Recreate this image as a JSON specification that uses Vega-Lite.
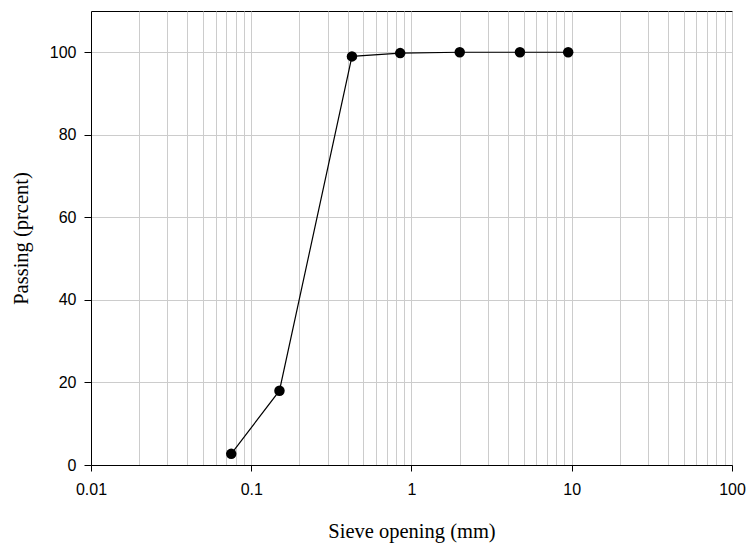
{
  "$schema": "https://vega.github.io/schema/vega-lite/v6.json",
  "width": 641,
  "height": 454,
  "autosize": {"type": "none"},
  "padding": {"left": 91, "top": 11, "right": 15, "bottom": 78},
  "background": "white",
  "config": {
    "view": {"stroke": "black", "strokeWidth": 1},
    "axis": {
      "labelFont": "Liberation Sans",
      "labelFontSize": 16,
      "labelColor": "black",
      "titleFont": "Liberation Serif",
      "titleFontSize": 20.5,
      "titleFontWeight": "normal",
      "titleColor": "black",
      "domainColor": "black",
      "tickColor": "black",
      "gridColor": "#cccccc",
      "gridWidth": 1,
      "gridOpacity": 1
    }
  },
  "data": {
    "values": [
      {"sieve": 0.075, "passing": 2.7},
      {"sieve": 0.15, "passing": 18},
      {"sieve": 0.425, "passing": 99},
      {"sieve": 0.85, "passing": 99.8},
      {"sieve": 2.0, "passing": 100},
      {"sieve": 4.75, "passing": 100},
      {"sieve": 9.5, "passing": 100}
    ]
  },
  "encoding": {
    "x": {
      "field": "sieve",
      "type": "quantitative",
      "scale": {"type": "log", "domain": [0.01, 100], "nice": false},
      "axis": {
        "title": "Sieve opening (mm)",
        "values": [0.01, 0.02, 0.03, 0.04, 0.05, 0.06, 0.07, 0.08, 0.09, 0.1, 0.2, 0.3, 0.4, 0.5, 0.6, 0.7, 0.8, 0.9, 1, 2, 3, 4, 5, 6, 7, 8, 9, 10, 20, 30, 40, 50, 60, 70, 80, 90, 100],
        "labelExpr": "indexof([0.01,0.1,1,10,100], datum.value) >= 0 ? datum.label : ''",
        "tickOpacity": {"condition": {"test": "indexof([0.01,0.1,1,10,100], datum.value) >= 0", "value": 1}, "value": 0},
        "labelOverlap": false,
        "labelBound": false,
        "labelFlush": false,
        "tickSize": 6,
        "labelPadding": 10,
        "titlePadding": 24,
        "grid": true
      }
    },
    "y": {
      "field": "passing",
      "type": "quantitative",
      "scale": {"domain": [0, 110], "nice": false},
      "axis": {
        "title": "Passing (prcent)",
        "values": [0, 20, 40, 60, 80, 100],
        "tickSize": 7,
        "labelPadding": 8,
        "titlePadding": 18,
        "grid": true
      }
    }
  },
  "layer": [
    {"mark": {"type": "line", "color": "black", "strokeWidth": 1.2}},
    {"mark": {"type": "point", "filled": true, "color": "black", "opacity": 1, "size": 110}}
  ]
}
